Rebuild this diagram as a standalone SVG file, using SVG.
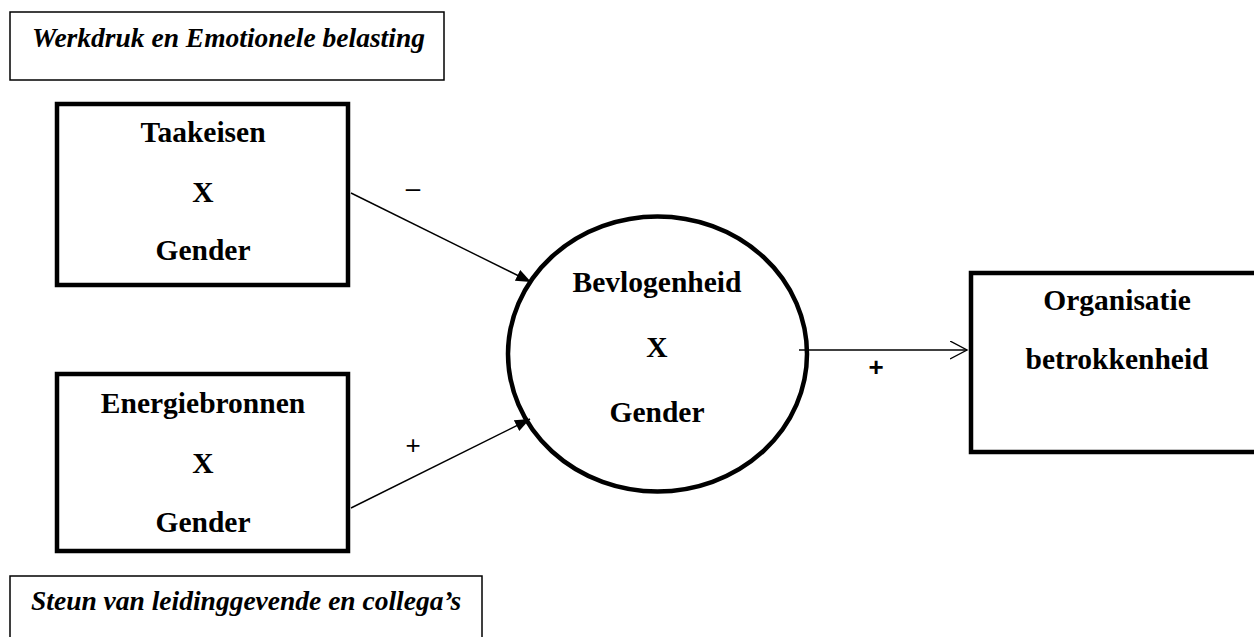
<svg xmlns="http://www.w3.org/2000/svg" width="1254" height="637" viewBox="0 0 1254 637">
<style>
.thin{fill:none;stroke:#000;stroke-width:1.5}
.thick{fill:none;stroke:#000;stroke-width:4.5}
.it{font-family:"Liberation Serif","Times New Roman",serif;font-style:italic;font-weight:bold;font-size:27.5px;fill:#000}
.bt{font-family:"Liberation Serif","Times New Roman",serif;font-weight:bold;font-size:29.5px;fill:#000;text-anchor:middle}
.conn{fill:none;stroke:#000;stroke-width:1.4}
.lbl{font-family:"Liberation Sans",Arial,sans-serif;font-size:26px;fill:#000;text-anchor:middle}
</style>
<defs>
<marker id="filled" markerUnits="userSpaceOnUse" markerWidth="16" markerHeight="14" refX="15" refY="6" orient="auto">
<path d="M0,0 L15,6 L0,12 z" fill="#000"/>
</marker>
<marker id="open" markerUnits="userSpaceOnUse" markerWidth="20" markerHeight="20" refX="17" refY="9" orient="auto">
<path d="M0,0 L17,9 L0,18" fill="none" stroke="#000" stroke-width="1.4"/>
</marker>
</defs>
<g id="werkdruk">
<rect class="thin" x="10" y="12" width="434" height="68"/>
<text class="it" x="32" y="47">Werkdruk en Emotionele belasting</text>
</g>
<g id="taakeisen">
<rect class="thick" x="57" y="104" width="291" height="181"/>
<text class="bt" x="203" y="142">Taakeisen</text>
<text class="bt" x="203" y="202">X</text>
<text class="bt" x="203" y="260">Gender</text>
</g>
<g id="energiebronnen">
<rect class="thick" x="57" y="374" width="291" height="177"/>
<text class="bt" x="203" y="413">Energiebronnen</text>
<text class="bt" x="203" y="473">X</text>
<text class="bt" x="203" y="532">Gender</text>
</g>
<g id="steun">
<rect class="thin" x="10" y="576" width="472" height="70"/>
<text class="it" x="31" y="610">Steun van leidinggevende en collega’s</text>
</g>
<g id="bevlogenheid">
<ellipse class="thick" cx="657.5" cy="354" rx="149.5" ry="137.5"/>
<text class="bt" x="657" y="292">Bevlogenheid</text>
<text class="bt" x="657" y="357">X</text>
<text class="bt" x="657" y="422">Gender</text>
</g>
<g id="organisatie">
<path class="thick" d="M1260,273 H971 V452 H1260"/>
<text class="bt" x="1117" y="310">Organisatie</text>
<text class="bt" x="1117" y="369">betrokkenheid</text>
</g>
<g id="connectors">
<line class="conn" x1="351" y1="193" x2="531" y2="282" marker-end="url(#filled)"/>
<line class="conn" x1="351" y1="508" x2="530" y2="419" marker-end="url(#filled)"/>
<line class="conn" x1="799" y1="350" x2="967" y2="350" marker-end="url(#open)"/>
<text class="lbl" x="413" y="197">–</text>
<text class="lbl" x="413" y="454">+</text>
<text class="lbl" x="876" y="376" font-weight="bold">+</text>
</g>
</svg>
